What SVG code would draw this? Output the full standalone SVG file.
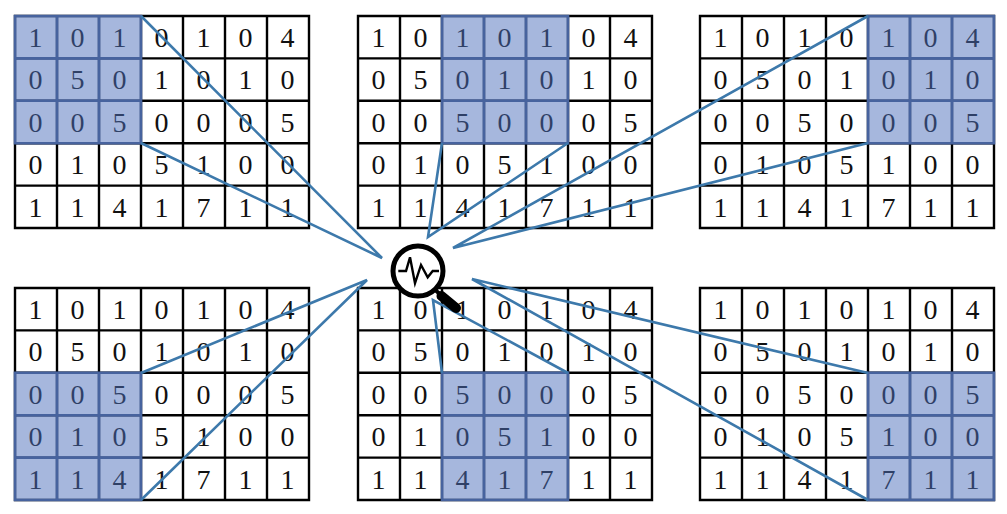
<svg xmlns="http://www.w3.org/2000/svg" width="1007" height="514" viewBox="0 0 1007 514">
<style>
text{font-family:"Liberation Serif","Times New Roman",serif;font-size:28px;fill:#111;text-anchor:middle}
.grid{fill:none;stroke:#000;stroke-width:2.4}
.hl{fill:#4d6fbb;fill-opacity:.5}
.hls{fill:none;stroke:#47639e;stroke-width:2.6}
.conn{fill:none;stroke:#3d79ab;stroke-width:2.6}
</style>
<defs>
<path id="g" class="grid" d="M0 0H294V212H0ZM42 0V212M84 0V212M126 0V212M168 0V212M210 0V212M252 0V212M0 42.4H294M0 84.8H294M0 127.2H294M0 169.6H294"/>
<g id="h"><rect class="hl" width="126" height="127.2"/><path class="hls" d="M0 0H126V127.2H0ZM42 0V127.2M84 0V127.2M0 42.4H126M0 84.8H126"/></g>
<g id="d">
<text x="20.5" y="31">1</text><text x="62.5" y="31">0</text><text x="104.5" y="31">1</text><text x="146.5" y="31">0</text><text x="188.5" y="31">1</text><text x="230.5" y="31">0</text><text x="272.5" y="31">4</text>
<text x="20.5" y="73.4">0</text><text x="62.5" y="73.4">5</text><text x="104.5" y="73.4">0</text><text x="146.5" y="73.4">1</text><text x="188.5" y="73.4">0</text><text x="230.5" y="73.4">1</text><text x="272.5" y="73.4">0</text>
<text x="20.5" y="115.8">0</text><text x="62.5" y="115.8">0</text><text x="104.5" y="115.8">5</text><text x="146.5" y="115.8">0</text><text x="188.5" y="115.8">0</text><text x="230.5" y="115.8">0</text><text x="272.5" y="115.8">5</text>
<text x="20.5" y="158.3">0</text><text x="62.5" y="158.3">1</text><text x="104.5" y="158.3">0</text><text x="146.5" y="158.3">5</text><text x="188.5" y="158.3">1</text><text x="230.5" y="158.3">0</text><text x="272.5" y="158.3">0</text>
<text x="20.5" y="200.8">1</text><text x="62.5" y="200.8">1</text><text x="104.5" y="200.8">4</text><text x="146.5" y="200.8">1</text><text x="188.5" y="200.8">7</text><text x="230.5" y="200.8">1</text><text x="272.5" y="200.8">1</text>
</g>
</defs>
<rect width="1007" height="514" fill="#fff"/>
<g id="window-top-left" transform="translate(15 16)"><use href="#d"/><use href="#g"/><use href="#h"/></g>
<g id="window-top-middle" transform="translate(358 16)"><use href="#d"/><use href="#g"/><use href="#h" x="84"/></g>
<g id="window-top-right" transform="translate(700 16)"><use href="#d"/><use href="#g"/><use href="#h" x="168"/></g>
<g id="window-bottom-left" transform="translate(15 288)"><use href="#d"/><use href="#g"/><use href="#h" y="84.8"/></g>
<g id="window-bottom-middle" transform="translate(358 288)"><use href="#d"/><use href="#g"/><use href="#h" x="84" y="84.8"/></g>
<g id="window-bottom-right" transform="translate(700 288)"><use href="#d"/><use href="#g"/><use href="#h" x="168" y="84.8"/></g>
<g id="connectors" class="conn">
<path d="M141 16L382 258L141 143"/>
<path d="M442 143L428 237L568 143"/>
<path d="M868 16L453 248L868 143"/>
<path d="M141 373L367 280L141 500"/>
<path d="M442 373L433 300L568 373"/>
<path d="M868 373L472 279L868 500"/>
</g>
<g id="magnifier">
<circle cx="418" cy="271" r="25" fill="#fff" stroke="#000" stroke-width="5"/>
<path d="M434 289L441 295" fill="none" stroke="#000" stroke-width="4"/>
<path d="M441.500 296L456 308" fill="none" stroke="#000" stroke-width="10" stroke-linecap="round"/>
<path d="M398.300 271H406L410 257.300L415 283.300L421 265L427.700 277.300L432.700 271H439" fill="none" stroke="#000" stroke-width="2.400"/>
</g>
</svg>
